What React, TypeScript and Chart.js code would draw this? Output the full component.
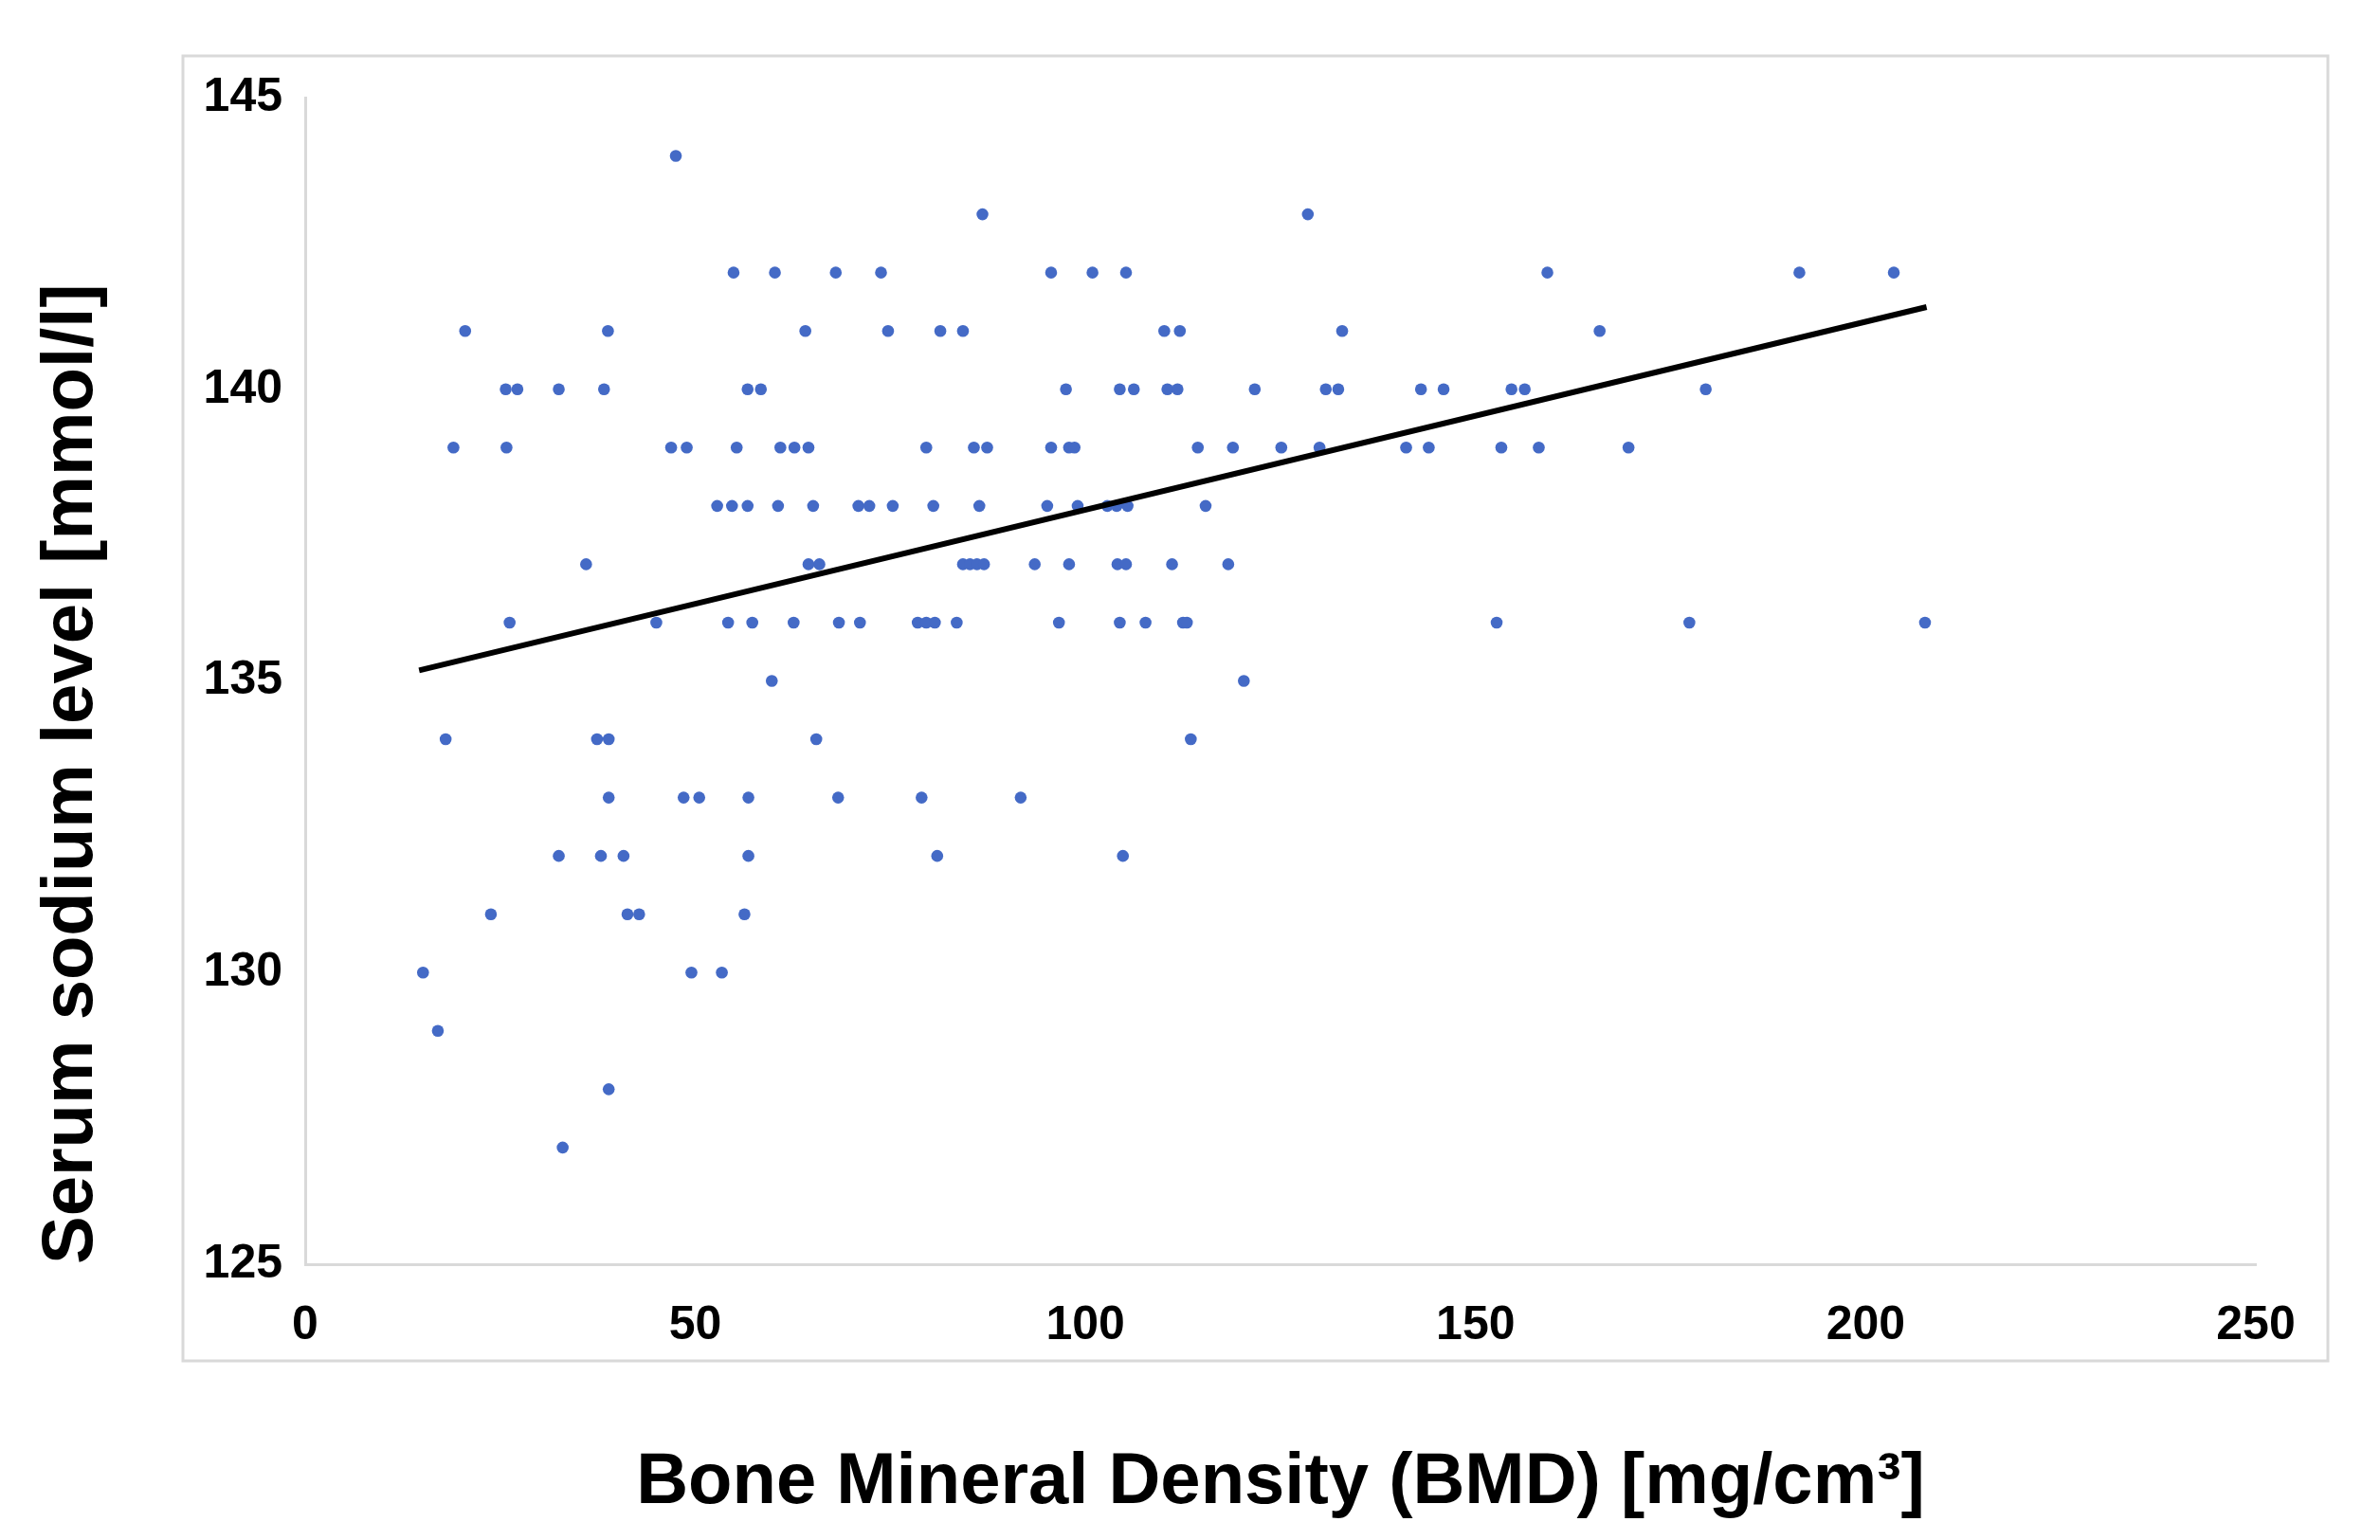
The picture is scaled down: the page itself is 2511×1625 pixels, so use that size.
import React, { useEffect, useRef } from "react";
import { Chart, registerables } from "chart.js";

Chart.register(...registerables);

// Serum sodium levels (mmol/l) and the BMD values (mg/cm³) observed at each level
const sodiumLevels = [144, 143, 142, 141, 140, 139, 138, 137, 136, 135, 134, 133, 132, 131, 130, 129, 128, 127];
const bmdByLevel: number[][] = [
  [47.5],
  [86.8, 128.5],
  [54.9, 60.2, 68.0, 73.8, 95.6, 100.9, 105.2, 159.2, 191.5, 203.6],
  [20.5, 38.8, 64.1, 74.7, 81.4, 84.3, 110.1, 112.1, 132.9, 165.9],
  [25.7, 27.2, 32.5, 38.3, 56.7, 58.4, 97.5, 104.4, 106.2, 110.5, 111.8, 121.7, 130.8, 132.4, 143.0, 145.9, 154.6, 156.3, 179.5],
  [19.0, 25.8, 46.9, 48.9, 55.3, 60.9, 62.7, 64.5, 79.6, 85.7, 87.4, 95.6, 97.9, 98.6, 114.4, 118.9, 125.1, 130.0, 141.1, 144.0, 153.3, 158.1, 169.6],
  [52.8, 54.7, 56.7, 60.6, 65.1, 70.9, 72.3, 75.3, 80.5, 86.4, 95.1, 99.0, 102.8, 104.0, 105.4, 115.4],
  [36.0, 64.5, 65.9, 84.3, 85.2, 86.1, 87.0, 93.5, 97.9, 104.1, 105.2, 111.1, 118.3],
  [26.2, 45.0, 54.2, 57.3, 62.6, 68.4, 71.1, 78.5, 79.6, 80.7, 83.5, 96.6, 104.4, 107.7, 112.5, 113.0, 152.7, 177.4, 207.6],
  [59.8, 120.3],
  [18.0, 37.4, 38.9, 65.5, 113.5],
  [38.9, 48.5, 50.5, 56.8, 68.3, 79.0, 91.7],
  [32.5, 37.9, 40.8, 56.8, 81.0, 104.8],
  [23.8, 41.3, 42.8, 56.3],
  [15.1, 49.5, 53.4],
  [17.0],
  [38.9],
  [33.0],
];

// Linear trend line end points
const trendX = [14.6, 207.8];
const trendY = [135.18, 141.41];

const xTicks = [0, 50, 100, 150, 200, 250];
const yTicks = [125, 130, 135, 140, 145];

const xTitle = "Bone Mineral Density (BMD) [mg/cm³]";
const yTitle = "Serum sodium level [mmol/l]";

const FONT = "'Liberation Sans', Arial, sans-serif";

const W = 2511;
const H = 1625;

const frame = {
  id: "frame",
  beforeDraw(chart: any) {
    const { ctx } = chart;
    ctx.save();
    ctx.fillStyle = "#ffffff";
    ctx.fillRect(0, 0, W, H);
    ctx.strokeStyle = "#d9d9d9";
    ctx.lineWidth = 3;
    ctx.strokeRect(193, 59, 2456 - 193, 1436 - 59);
    ctx.restore();
  },
};

export default function App() {
  const ref = useRef<HTMLCanvasElement | null>(null);

  useEffect(() => {
    if (!ref.current) return;
    const points: { x: number; y: number }[] = [];
    sodiumLevels.forEach((lvl, i) => {
      bmdByLevel[i].forEach((b) => points.push({ x: b, y: lvl }));
    });
    const trend = trendX.map((x, i) => ({ x, y: trendY[i] }));

    const chart = new Chart(ref.current, {
      type: "scatter",
      data: {
        datasets: [
          {
            label: "Patients",
            data: points,
            backgroundColor: "rgb(68,106,198)",
            borderColor: "rgb(68,106,198)",
            borderWidth: 0,
            pointRadius: 6.3,
            order: 2,
          },
          {
            type: "line",
            label: "Linear trend",
            data: trend,
            borderColor: "#000000",
            borderWidth: 6,
            pointRadius: 0,
            showLine: true,
            fill: false,
            order: 1,
          } as any,
        ],
      },
      options: {
        responsive: false,
        animation: false,
        devicePixelRatio: 1,
        layout: { padding: { left: 0, top: 103, right: 131, bottom: 0 } },
        plugins: {
          legend: { display: false },
          tooltip: { enabled: false },
        },
        scales: {
          x: {
            type: "linear",
            min: 0,
            max: 250,
            afterBuildTicks: (scale: any) => {
              scale.ticks = xTicks.map((v) => ({ value: v }));
            },
            afterFit: (scale: any) => {
              scale.height = H - 1334;
            },
            grid: { display: false, drawTicks: false },
            border: { display: true, color: "#d9d9d9", width: 3 },
            ticks: {
              color: "#000",
              padding: 35,
              font: { family: FONT, size: 50, weight: "bold" },
            },
            title: {
              display: true,
              text: xTitle,
              color: "#000",
              font: { family: FONT, size: 76, weight: "bold" },
              padding: { top: 0, bottom: 14 },
            },
          },
          y: {
            type: "linear",
            min: 125,
            max: 145,
            afterBuildTicks: (scale: any) => {
              scale.ticks = yTicks.map((v) => ({ value: v }));
            },
            afterFit: (scale: any) => {
              scale.width = 322;
            },
            grid: { display: false, drawTicks: false },
            border: { display: true, color: "#d9d9d9", width: 3 },
            ticks: {
              color: "#000",
              padding: 24,
              font: { family: FONT, size: 50, weight: "bold" },
            },
            title: {
              display: true,
              text: yTitle,
              align: "start",
              color: "#000",
              font: { family: FONT, size: 76, weight: "bold" },
              padding: { top: 30, bottom: 0 },
            },
          },
        },
      },
      plugins: [frame],
    } as any);

    return () => chart.destroy();
  }, []);

  return (
    <div style={{ position: "absolute", left: 0, top: 0, width: W, height: H, background: "#fff" }}>
      <canvas ref={ref} width={W} height={H} style={{ width: W, height: H, display: "block" }} />
    </div>
  );
}
